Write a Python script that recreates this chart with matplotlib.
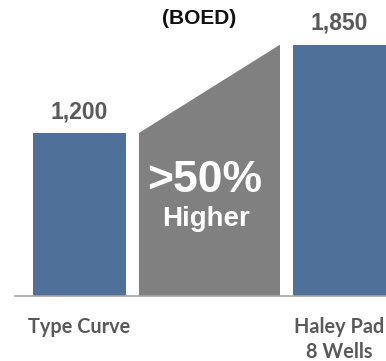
import matplotlib
matplotlib.use("Agg")
import matplotlib.pyplot as plt

# Pad production (BOED)
categories = ["Type Curve", "", "Haley Pad\n8 Wells"]
type_curve = 1200
haley_pad = 1850
value_labels = ["1,200", "1,850"]
uplift_text = ">50%"
uplift_sub = "Higher"

blue = "#4E7099"
grey = "#808080"
label_col = "#595959"

fig = plt.figure(figsize=(3.86, 3.61), dpi=100)
ax = fig.add_axes([15 / 386, 1 - 296 / 361, 1 - 15 / 386, 296 / 361])

bar_w = 0.715
wedge_w = 1.085

ax.bar([0, 2], [type_curve, haley_pad], width=bar_w, color=blue, zorder=2)

# grey wedge climbing from the type curve level to the pad level
xl, xr = 1 - wedge_w / 2, 1 + wedge_w / 2
ax.fill([xl, xl, xr, xr], [0, type_curve, haley_pad, 0], color=grey, lw=0, zorder=2)

for x, v, s in zip([0, 2], [type_curve, haley_pad], value_labels):
    ax.annotate(s, (x, v), xytext=(0, 7), textcoords="offset points",
                ha="center", va="bottom", fontsize=16.5, fontweight="bold",
                color=label_col, family="Liberation Sans")

ax.text(0.965, 847, uplift_text, ha="center", va="center", fontsize=32,
        fontweight="bold", color="white", family="Liberation Sans", zorder=3)
ax.text(0.975, 565, uplift_sub, ha="center", va="center", fontsize=20,
        fontweight="bold", color="white", family="Liberation Sans", zorder=3)

fig.text(199 / 386, 1 - 19 / 361, "(BOED)", ha="center", va="center",
         fontsize=15, fontweight="bold", color="#111111", family="Liberation Sans")

ax.set_xlim(-0.496, 2.358)
ax.set_ylim(0, 2179)
ax.set_xticks([0, 1, 2])
ax.set_xticklabels(categories, fontsize=14.3, fontweight="bold", color=label_col,
                   family="Lato", linespacing=1.35)
ax.tick_params(axis="x", length=0, pad=15)
ax.set_yticks([])
for side in ["top", "left", "right"]:
    ax.spines[side].set_visible(False)
ax.spines["bottom"].set_color("#A6A6A6")
ax.spines["bottom"].set_linewidth(1.2)

fig.savefig("out.png", dpi=100)
